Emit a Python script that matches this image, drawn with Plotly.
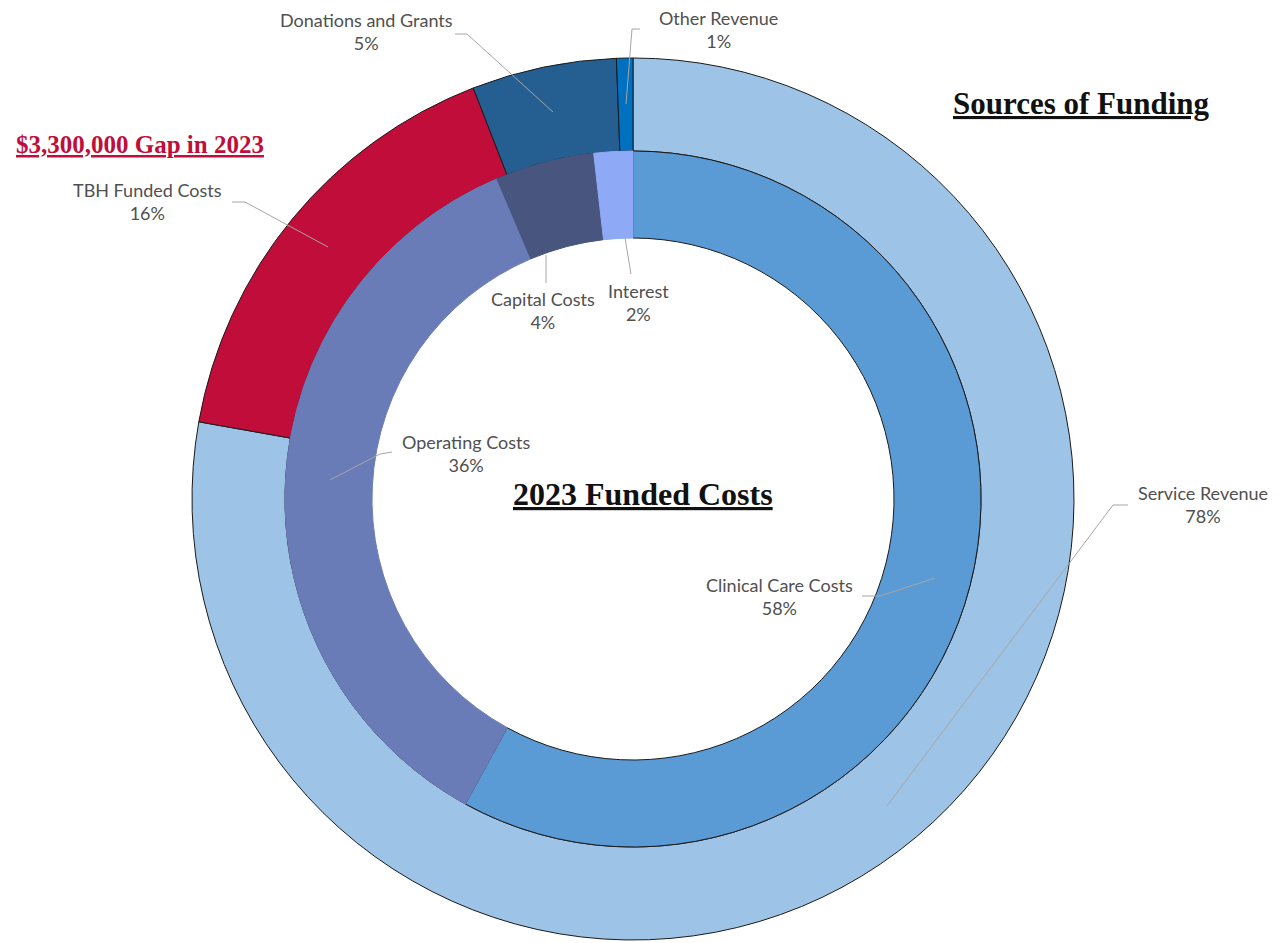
import plotly.graph_objects as go

W, H = 1286, 943
OFF = 8  # default page body margin

# Outer ring: Sources of Funding
outer_labels = ["Service Revenue", "TBH Funded Costs", "Donations and Grants", "Other Revenue"]
outer_values = [77.8, 16.3, 5.3, 0.6]
outer_pct_text = ["78%", "16%", "5%", "1%"]
outer_colors = ["#9DC3E6", "#C00D3A", "#255E91", "#0070C0"]

# Inner ring: 2023 Funded Costs
inner_labels = ["Clinical Care Costs", "Operating Costs", "Capital Costs", "Interest"]
inner_values = [58.0, 35.6, 4.6, 1.8]
inner_pct_text = ["58%", "36%", "4%", "2%"]
inner_colors = ["#5B9BD5", "#6A7CB8", "#47557F", "#8EA9F5"]
inner_line_colors = ["#1a1a1a", "#6A7CB8", "#47557F", "#8EA9F5"]

def px(x):
    return (x - OFF) / W

def py(y):
    return 1 - (y - OFF) / H

cx, cy = 633, 499
r_out, r_mid, r_in = 441, 348, 261

fig = go.Figure()
fig.add_trace(go.Pie(
    labels=outer_labels, values=outer_values, sort=False, direction="clockwise",
    rotation=0, hole=r_mid / r_out, textinfo="none", showlegend=False,
    marker=dict(colors=outer_colors, line=dict(color="#1a1a1a", width=1)),
    domain=dict(x=[px(cx - r_out), px(cx + r_out)], y=[py(cy + r_out), py(cy - r_out)]),
))
fig.add_trace(go.Pie(
    labels=inner_labels, values=inner_values, sort=False, direction="clockwise",
    rotation=0, hole=r_in / r_mid, textinfo="none", showlegend=False,
    marker=dict(colors=inner_colors, line=dict(color=inner_line_colors, width=1)),
    domain=dict(x=[px(cx - r_mid), px(cx + r_mid)], y=[py(cy + r_mid), py(cy - r_mid)]),
))

label_font = dict(family="Lato", size=18, color="#505050")

# label positions (pixels): centre of two-line label
outer_pos = [(1203, 504), (147, 201), (366, 32), (718, 29)]
inner_pos = [(779, 596), (466, 453), (543, 310), (638, 302)]

annotations = []
for (lab, pct), (x, y) in zip(list(zip(outer_labels, outer_pct_text)) + list(zip(inner_labels, inner_pct_text)),
                              outer_pos + inner_pos):
    annotations.append(dict(
        x=px(x), y=py(y), xref="paper", yref="paper", showarrow=False,
        text=f"{lab}<br>{pct}", font=label_font, align="center",
        xanchor="center", yanchor="middle"))

annotations.append(dict(x=px(1081), y=py(104), xref="paper", yref="paper", showarrow=False,
                        xanchor="center", yanchor="middle",
                        text="<b><u>Sources of Funding</u></b>",
                        font=dict(family="Liberation Serif", size=31, color="#111111")))
annotations.append(dict(x=px(643), y=py(494), xref="paper", yref="paper", showarrow=False,
                        xanchor="center", yanchor="middle",
                        text="<b><u>2023 Funded Costs</u></b>",
                        font=dict(family="Liberation Serif", size=32, color="#111111")))
annotations.append(dict(x=px(140), y=py(144), xref="paper", yref="paper", showarrow=False,
                        xanchor="center", yanchor="middle",
                        text="<b><u>$3,300,000 Gap in 2023</u></b>",
                        font=dict(family="Liberation Serif", size=25, color="#C00D3A")))

# leader lines (pixel paths)
leaders = [
    [(1128, 505), (1113, 505), (887, 806)],
    [(232, 202), (245, 202), (328, 247)],
    [(455, 34), (467, 34), (553, 112)],
    [(640, 29), (632, 29), (626, 104)],
    [(862, 596), (880, 596), (935, 578)],
    [(392, 452), (380, 454), (330, 480)],
    [(546, 283), (546, 255)],
    [(631, 274), (625, 238)],
]
shapes = []
for path in leaders:
    d = "M " + " L ".join(f"{px(x)} {py(y)}" for x, y in path)
    shapes.append(dict(type="path", path=d, xref="paper", yref="paper",
                       line=dict(color="#A6A6A6", width=1)))

fig.update_layout(
    width=W, height=H, margin=dict(l=0, r=0, t=0, b=0),
    paper_bgcolor="white", plot_bgcolor="white",
    annotations=annotations, shapes=shapes,
)
fig.write_html("out.html")
